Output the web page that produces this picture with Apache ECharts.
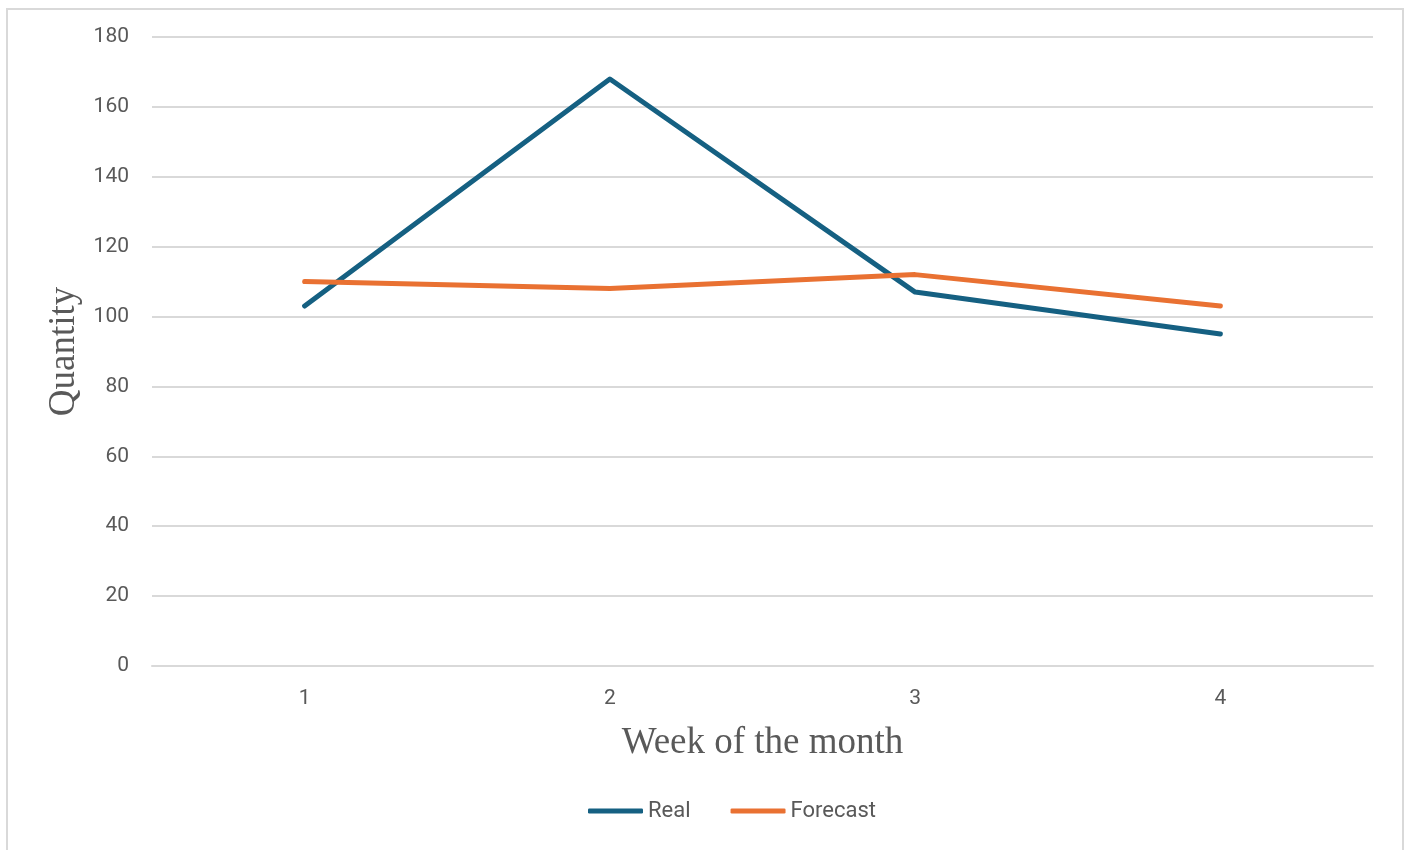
<!DOCTYPE html>
<html>
<head>
<meta charset="utf-8">
<script src="https://cdn.jsdelivr.net/npm/echarts@6/dist/echarts.min.js"></script>
<style>
  html, body { margin: 0; padding: 0; background: #fff; overflow: hidden; }
  #frame { position: absolute; left: 6px; top: 8px; width: 1394px; height: 900px;
           border: 2px solid #d9d9d9; border-bottom: none; }
  #main { position: absolute; left: 0; top: 0; width: 1409px; height: 850px; }
</style>
</head>
<body>
<div id="frame"></div>
<div id="main"></div>
<script>
// weeks on the x axis
const weeks = ['1', '2', '3', '4'];
// actual quantities per week
const realValues = [103, 168, 107, 95];
// forecast quantities per week
const forecastValues = [110, 108, 112, 103];

const chart = echarts.init(document.getElementById('main'), null, { renderer: 'canvas' });

const labelColor = '#595959';
const sans = 'Roboto, "Noto Sans", sans-serif';
const serif = '"Liberation Serif", "DejaVu Serif", serif';

const option = {
  animation: false,
  grid: { left: 152, right: 36, top: 37, bottom: 184, containLabel: false },
  legend: {
    bottom: 23,
    left: 583,
    icon: 'roundRect',
    itemWidth: 55,
    itemHeight: 5,
    itemGap: 40,
    textStyle: { color: labelColor, fontSize: 22, fontFamily: sans },
    data: ['Real', 'Forecast']
  },
  xAxis: {
    type: 'category',
    data: weeks,
    boundaryGap: true,
    axisLine: { show: true, lineStyle: { color: '#d9d9d9', width: 2 } },
    axisTick: { show: false },
    axisLabel: { color: labelColor, fontSize: 21, fontFamily: sans, margin: 22 },
    name: 'Week of the month',
    nameLocation: 'middle',
    nameGap: 59,
    nameTextStyle: { color: labelColor, fontSize: 37, fontFamily: serif }
  },
  yAxis: {
    type: 'value',
    min: 0,
    max: 180,
    interval: 20,
    axisLine: { show: false },
    axisTick: { show: false },
    splitLine: { lineStyle: { color: '#d9d9d9', width: 2 } },
    axisLabel: { color: labelColor, fontSize: 21, fontFamily: sans, margin: 23 },
    name: 'Quantity',
    nameLocation: 'middle',
    nameGap: 66,
    nameTextStyle: { color: labelColor, fontSize: 37, fontFamily: serif }
  },
  series: [
    {
      name: 'Real',
      type: 'line',
      data: realValues,
      symbol: 'none',
      color: '#156082',
      lineStyle: { width: 5, color: '#156082', cap: 'round', join: 'round' }
    },
    {
      name: 'Forecast',
      type: 'line',
      data: forecastValues,
      symbol: 'none',
      color: '#E97132',
      lineStyle: { width: 5, color: '#E97132', cap: 'round', join: 'round' }
    }
  ]
};

chart.setOption(option);
</script>
</body>
</html>
